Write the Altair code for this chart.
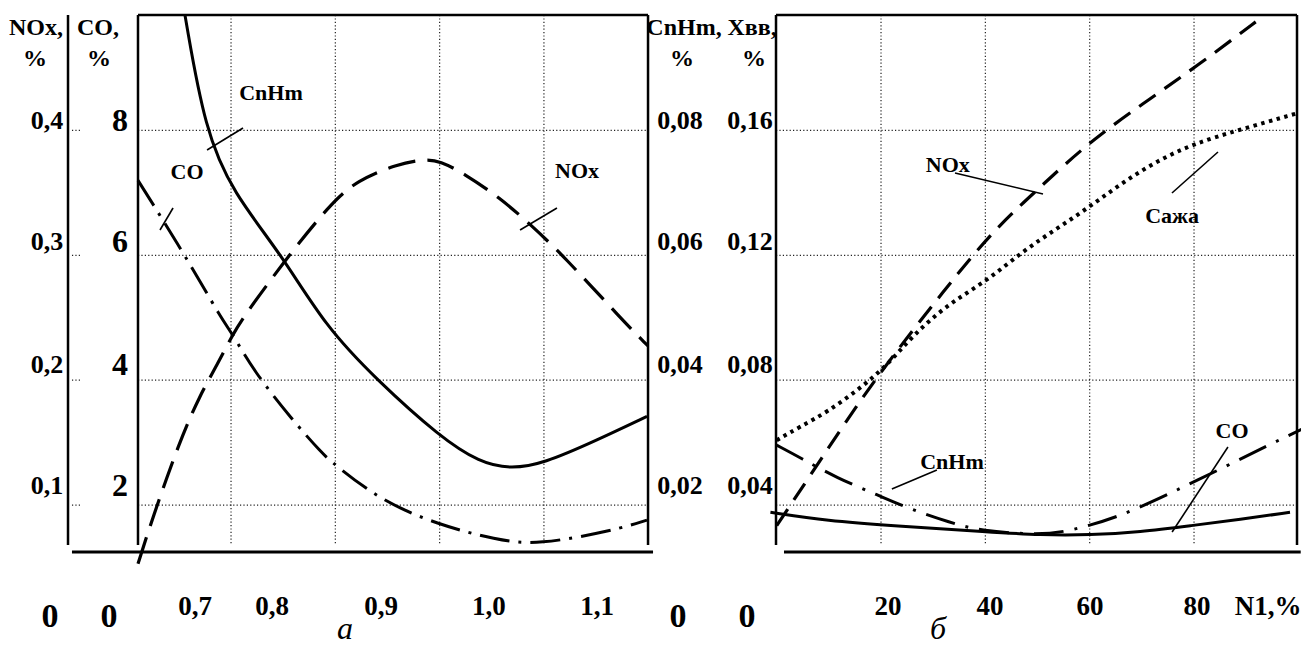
import altair as alt
import pandas as pd

FONT = "Liberation Serif, Times New Roman, serif"

# ---------------- panel a (x: alpha) ----------------
alpha_cnhm = [0.7059, 0.7250, 0.7519, 0.7989, 0.8401, 0.8900, 0.9504, 0.9887, 1.0175, 1.0491, 1.1009, 1.1488]
cnhm_a = [0.0984, 0.0800, 0.0700, 0.0600, 0.0487, 0.0400, 0.0309, 0.0268, 0.0258, 0.0266, 0.0304, 0.0342]

alpha_co = [0.6608, 0.7059, 0.7413, 0.7519, 0.7711, 0.8085, 0.8372, 0.8478, 0.8928, 0.9475, 1.0050, 1.0434, 1.1162, 1.1488]
co_a = [7.20, 6.00, 4.97, 4.73, 4.16, 3.37, 2.83, 2.67, 2.08, 1.69, 1.44, 1.36, 1.59, 1.76]

alpha_nox = [0.6608, 0.6742, 0.7011, 0.7202, 0.7365, 0.7519, 0.7615, 0.7989, 0.8449, 0.8708, 0.9091,
             0.9360, 0.9504, 0.9724, 1.0079, 1.0366, 1.0683, 1.1258, 1.1498]
nox_a = [0.053, 0.0884, 0.152, 0.188, 0.212, 0.237, 0.250, 0.293, 0.341, 0.360, 0.373,
         0.377, 0.3755, 0.366, 0.346, 0.325, 0.300, 0.2476, 0.2274]

# ---------------- panel b (x: N1, %) ----------------
n1_nox = [0, 8.3, 18.4, 32.6, 41.5, 50.5, 59.5, 70.2, 80.6, 93.2]
xvv_nox = [0.0334, 0.0542, 0.0797, 0.1098, 0.1280, 0.1418, 0.1557, 0.1686, 0.1806, 0.1965]

n1_soot = [0, 4.5, 9.7, 16.0, 21.2, 26.2, 32.7, 40.4, 47.3, 53.8, 60.1, 66.4, 73.0, 79.9, 88.3, 99.8]
xvv_soot = [0.0608, 0.0651, 0.0698, 0.0774, 0.0848, 0.0945, 0.1042, 0.1119, 0.1215, 0.1286, 0.1357,
            0.1434, 0.1503, 0.1557, 0.1600, 0.1655]

n1_solid = [-1.2, 9.7, 22.3, 40.9, 50.5, 60.1, 69.7, 79.3, 88.9, 98.4]
xvv_solid = [0.0377, 0.0350, 0.0334, 0.0314, 0.0304, 0.0304, 0.0314, 0.0334, 0.0354, 0.0377]

n1_dd = [0, 4.5, 11.6, 19.3, 25.6, 33.3, 39.0, 50.5, 56.2, 65.3, 74.9, 85.6, 95.2, 101.7]
xvv_dd = [0.0592, 0.0552, 0.0486, 0.0433, 0.0387, 0.0344, 0.0317, 0.0304, 0.0317, 0.0360, 0.0433,
          0.0520, 0.0600, 0.0651]

# ---------------- tick labels ----------------
nox_ticks = ["0,1", "0,2", "0,3", "0,4"]
co_ticks = ["2", "4", "6", "8"]
cnhm_ticks = ["0,02", "0,04", "0,06", "0,08"]
xvv_ticks = ["0,04", "0,08", "0,12", "0,16"]
grid_levels = [2, 4, 6, 8]            # in CO-% units (common vertical scale)
label_levels = [2.30, 4.25, 6.21, 8.15]

alpha_labels = ["0,7", "0,8", "0,9", "1,0", "1,1"]
alpha_label_pos = [0.7155, 0.7893, 0.8938, 0.9973, 1.1009]
alpha_grid = [0.75, 0.85, 0.95, 1.05]

n1_labels = ["20", "40", "60", "80", "N1,%"]
n1_label_pos = [21.34, 40.89, 60.06, 80.57, 94.18]
n1_grid = [20, 40, 60, 80]

# ratios between each axis and the common CO-% vertical scale
K_NOX, K_CO, K_CNHM, K_XVV = 20, 1, 100, 50

XA = alt.Scale(domain=[0.53616, 1.77585], nice=False, zero=False)
XB = alt.Scale(domain=[-147.35, 100.505], nice=False, zero=False)
YS = alt.Scale(domain=[-0.2722, 9.960], nice=False, zero=False)

TOP, BOT, BASE = 9.848, 1.361, 1.249


def curve(xs, vals, k, xscale, width=3.0, dash=None):
    df = pd.DataFrame({"x": xs, "y": [v * k for v in vals]})
    kw = dict(color="black", strokeWidth=width, interpolate="basis", strokeCap="butt")
    if dash:
        kw["strokeDash"] = dash
    return alt.Chart(df).mark_line(**kw).encode(
        x=alt.X("x:Q", scale=xscale, axis=None),
        y=alt.Y("y:Q", scale=YS, axis=None),
    )


def rules(rows, xscale, width=2.5, dash=None, color="black"):
    df = pd.DataFrame(rows, columns=["x", "x2", "y", "y2"])
    kw = dict(color=color, strokeWidth=width)
    if dash:
        kw["strokeDash"] = dash
    return alt.Chart(df).mark_rule(**kw).encode(
        x=alt.X("x:Q", scale=xscale, axis=None), x2="x2:Q",
        y=alt.Y("y:Q", scale=YS, axis=None), y2="y2:Q",
    )


def texts(xs, ys, labels, xscale, size, weight="bold", style="normal", baseline="middle"):
    df = pd.DataFrame({"x": xs, "y": ys, "t": labels})
    return alt.Chart(df).mark_text(
        font=FONT, fontSize=size, fontWeight=weight, fontStyle=style,
        align="center", baseline=baseline, color="black",
    ).encode(
        x=alt.X("x:Q", scale=xscale, axis=None),
        y=alt.Y("y:Q", scale=YS, axis=None),
        text="t:N",
    )


GRID = dict(width=1.2, dash=[1.2, 2.2], color="#222")

# ---------------- left panel layers ----------------
xa_l, xa_r = 0.6608, 1.1498
left_layers = [
    rules([(a, a, TOP, BOT) for a in alpha_grid], XA, **GRID),
    rules([(xa_l, xa_r, g, g) for g in grid_levels], XA, **GRID),
    rules([(0.5975, 0.6052, g, g) for g in grid_levels], XA, **GRID),
    rules([(xa_l, xa_r, TOP, TOP)], XA, width=2.5),
    rules([(xa_l, xa_l, TOP, BOT), (xa_r, xa_r, TOP, BOT), (0.5937, 0.5937, TOP, BOT)], XA, width=2.5),
    rules([(0.5975, 1.1546, BASE, BASE)], XA, width=3),
    curve(alpha_cnhm, cnhm_a, K_CNHM, XA, width=3),
    curve(alpha_co, co_a, K_CO, XA, width=3, dash=[30, 9, 3, 9]),
    curve(alpha_nox, nox_a, K_NOX, XA, width=3.2, dash=[28, 12]),
    # leaders
    rules([(0.7270, 0.7615, 7.686, 8.038), (0.6819, 0.6944, 6.405, 6.757), (1.0271, 1.0625, 6.405, 6.757)],
          XA, width=1.6),
    # in-plot labels
    texts([0.7883, 0.7078, 1.0817], [8.60, 7.33, 7.35], ["CnHm", "CO", "NOx"], XA, 22),
    # axis titles
    texts([0.5630, 0.6224, 1.1843], [9.64] * 3, ["NOx,", "CO,", "CnHm,"], XA, 24),
    texts([0.5620, 0.6234, 1.1824], [9.143] * 3, ["%", "%", "%"], XA, 24),
    # y tick labels
    texts([0.5736] * 4, label_levels, nox_ticks, XA, 26),
    texts([0.6435] * 4, label_levels, co_ticks, XA, 32),
    texts([1.1805] * 4, label_levels, cnhm_ticks, XA, 26),
    texts([0.5764, 0.6330, 1.1785], [0.208] * 3, ["0", "0", "0"], XA, 34),
    # x tick labels
    texts(alpha_label_pos, [0.368] * 5, alpha_labels, XA, 27),
    texts([0.8593], [-0.26], ["а"], XA, 32, weight="normal", style="italic", baseline="bottom"),
]

# ---------------- right panel layers ----------------
xb_l, xb_r = -0.13, 99.74
right_layers = [
    rules([(n, n, TOP, BOT) for n in n1_grid], XB, **GRID),
    rules([(xb_l, xb_r, g, g) for g in grid_levels], XB, **GRID),
    rules([(xb_l, xb_r, TOP, TOP)], XB, width=2.5),
    rules([(xb_l, xb_l, TOP, BOT), (xb_r, xb_r, TOP, BOT)], XB, width=2.5),
    rules([(1.4, 100.45, BASE, BASE)], XB, width=3),
    curve(n1_solid, xvv_solid, K_XVV, XB, width=3),
    curve(n1_dd, xvv_dd, K_XVV, XB, width=3, dash=[30, 11, 3, 11]),
    curve(n1_soot, xvv_soot, K_XVV, XB, width=4, dash=[3.5, 4.5]),
    curve(n1_nox, xvv_nox, K_XVV, XB, width=3.2, dash=[20, 11]),
    rules([(34.18, 51.05, 7.318, 6.982), (75.77, 84.59, 6.998, 7.654),
           (22.08, 30.71, 2.258, 2.562), (86.5, 75.8, 2.930, 1.569)], XB, width=1.6),
    texts([32.8, 75.8, 33.6, 87.3], [7.45, 6.63, 2.69, 3.19], ["NOx", "Сажа", "CnHm", "CO"], XB, 22),
    texts([-4.73], [9.64], ["Хвв,"], XB, 24),
    texts([-4.35], [9.143], ["%"], XB, 24),
    texts([-5.12] * 4, label_levels, xvv_ticks, XB, 26),
    texts([-5.69], [0.208], ["0"], XB, 34),
    texts(n1_label_pos, [0.368] * 5, n1_labels, XB, 27),
    texts([30.92], [-0.26], ["б"], XB, 32, weight="normal", style="italic", baseline="bottom"),
]

left = alt.layer(*left_layers)
right = alt.layer(*right_layers)

chart = alt.layer(left, right).resolve_scale(x="independent").properties(
    width=1293, height=639, padding=0,
    autosize=alt.AutoSizeParams(type="none"),
).configure_view(stroke=None)

chart.save("out.html", embed_options={"renderer": "svg", "actions": False})
